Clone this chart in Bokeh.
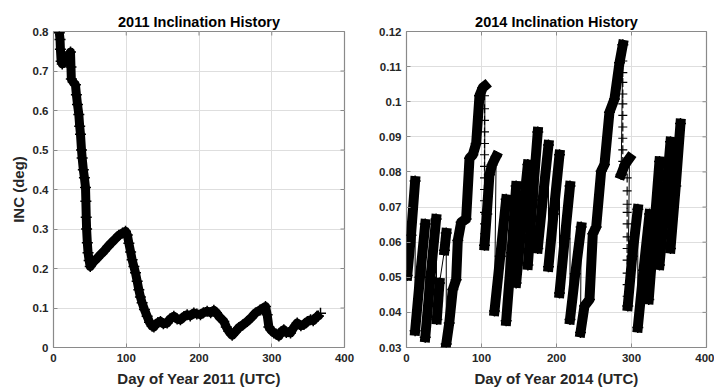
import math
from bokeh.plotting import figure
from bokeh.models import Range1d, FixedTicker
from bokeh.layouts import row
from bokeh.embed import file_html
from bokeh.resources import INLINE

# ---------------- data: 2011 ----------------
days_2011 = [8, 9, 9.5, 10.5, 12, 15, 18, 21, 23.4, 24, 24.5, 27, 30.2, 31.5, 33, 34.8,
             36, 37.1, 38.5, 39.4, 41, 42.5, 44, 44.5, 45, 45.5, 46.5, 47.5, 49, 50.5,
             52, 55.5, 60, 64.6, 70, 75, 80, 85, 89.8, 95, 99, 101.5, 103.6, 106, 108.1,
             110.5, 112.7, 115, 117.3, 119.5, 121.8, 125, 128.7, 132, 135.6, 138, 140.2,
             143.5, 147, 151, 156.2, 160, 165.4, 170, 174.5, 179, 183.7, 188, 192.9, 197,
             202, 206, 211.2, 216, 220.4, 224, 227.2, 231, 234.1, 237.5, 241, 245.6, 250,
             254.7, 260, 266.2, 272, 277.6, 284, 291.4, 293.7, 296, 299, 302.9, 306,
             309.8, 313, 316.6, 320, 325.8, 330, 335, 340, 344.2, 349, 353.4, 357, 360.2,
             364, 367]
inc_2011 = [0.797, 0.78, 0.755, 0.725, 0.718, 0.722, 0.733, 0.74, 0.748, 0.71, 0.68, 0.672,
            0.665, 0.64, 0.615, 0.59, 0.56, 0.54, 0.5, 0.48, 0.45, 0.43, 0.405, 0.37, 0.33,
            0.3, 0.265, 0.24, 0.22, 0.205, 0.21, 0.218, 0.226, 0.235, 0.245, 0.256, 0.266,
            0.275, 0.284, 0.29, 0.294, 0.285, 0.264, 0.242, 0.222, 0.205, 0.189, 0.168,
            0.146, 0.128, 0.113, 0.096, 0.079, 0.064, 0.054, 0.052, 0.058, 0.063, 0.066,
            0.06, 0.062, 0.072, 0.079, 0.072, 0.07, 0.078, 0.083, 0.08, 0.0875, 0.085,
            0.083, 0.088, 0.092, 0.088, 0.094, 0.088, 0.079, 0.072, 0.066, 0.052, 0.041,
            0.031, 0.04, 0.05, 0.057, 0.066, 0.076, 0.0875, 0.095, 0.104, 0.083, 0.052,
            0.044, 0.037, 0.034, 0.029, 0.04, 0.045, 0.038, 0.037, 0.05, 0.062, 0.055,
            0.058, 0.066, 0.07, 0.068, 0.075, 0.08, 0.087]

# ---------------- data: 2014 (steep ramps, segment id per point) ----------------
days_2014 = [1, 6, 11.5,
             11.5, 18, 25,
             25, 32, 39.5,
             40.4, 44,
             50.6, 53,
             53, 57, 61.7, 66.2, 68.4, 72.9, 79.5, 84, 88.4, 92.9, 97.3, 101.7, 104.5,
             104, 107, 110.6, 114, 119.5,
             117.3, 125, 132.9,
             132.9, 140, 146.2,
             146.2, 154, 161.8,
             161.8, 168, 175,
             175, 182, 189.3,
             189.3, 196, 204,
             204, 211, 218,
             218, 225, 232.9,
             232, 237.3, 244, 248.4, 252.9, 259.5, 264, 270.6, 277.3, 284, 288.4,
             286.2, 291, 297.3,
             295, 301, 308.4,
             308.4, 316, 324,
             323, 330, 337.3,
             337.3, 345, 352,
             352, 359, 365.3]
inc_2014 = [0.0505, 0.062, 0.0774,
            0.0348, 0.050, 0.0652,
            0.0329, 0.050, 0.0666,
            0.038, 0.0484,
            0.0577, 0.0626,
            0.031, 0.037, 0.0465, 0.0493, 0.0605, 0.0657, 0.0666, 0.0839, 0.0849, 0.0881,
            0.1017, 0.104, 0.1045,
            0.0591, 0.068, 0.0792, 0.082, 0.0844,
            0.0404, 0.056, 0.0722,
            0.0376, 0.057, 0.076,
            0.0484, 0.066, 0.0821,
            0.0535, 0.072, 0.0914,
            0.0582, 0.073, 0.0877,
            0.053, 0.068, 0.0849,
            0.0455, 0.061, 0.076,
            0.038, 0.051, 0.0643,
            0.0343, 0.0418, 0.0437, 0.0624, 0.0643, 0.0802, 0.0821, 0.097, 0.1008, 0.1111,
            0.1162,
            0.0793, 0.082, 0.0839,
            0.0418, 0.056, 0.0694,
            0.0357, 0.052, 0.068,
            0.0437, 0.063, 0.083,
            0.0535, 0.071, 0.0886,
            0.0582, 0.076, 0.0938]
seg_2014 = [1, 1, 1,
            2, 2, 2,
            3, 3, 3,
            4, 4,
            5, 5,
            6, 6, 6, 6, 6, 6, 6, 6, 6, 6, 6, 6, 6,
            7, 7, 7, 7, 7,
            8, 8, 8,
            9, 9, 9,
            10, 10, 10,
            11, 11, 11,
            12, 12, 12,
            13, 13, 13,
            14, 14, 14,
            15, 15, 15,
            16, 16, 16, 16, 16, 16, 16, 16, 16, 16, 16,
            17, 17, 17,
            18, 18, 18,
            19, 19, 19,
            20, 20, 20,
            21, 21, 21,
            22, 22, 22]
# sparse '+' samples read along the fast drops
drop_days_2014 = [104, 104, 104, 104, 104, 104, 104, 104, 104, 104, 104, 104, 104,
                  288.4, 288.4, 288.4, 288.4, 288.4, 288.4, 288.4, 288.4, 288.4, 288.4,
                  294.2, 294.2, 294.2, 294.2, 294.2, 294.2, 294.2, 294.2, 294.2, 294.2, 294.2]
drop_inc_2014 = [0.1017, 0.098, 0.0947, 0.0914, 0.0881, 0.0849, 0.0816, 0.0783, 0.075,
                 0.0718, 0.0685, 0.0652, 0.0624,
                 0.1116, 0.1083, 0.1055, 0.1022, 0.0994, 0.0961, 0.0928, 0.0896, 0.0863,
                 0.083,
                 0.0783, 0.0746, 0.0708, 0.0685, 0.0652, 0.0615, 0.0582, 0.0549, 0.0512,
                 0.0479, 0.0446]

# ---------------- ticks / labels ----------------
x_ticks = [0, 100, 200, 300, 400]
x_tick_labels = ["0", "100", "200", "300", "400"]
y_ticks_2011 = [0, 0.1, 0.2, 0.3, 0.4, 0.5, 0.6, 0.7, 0.8]
y_tick_labels_2011 = ["0", "0.1", "0.2", "0.3", "0.4", "0.5", "0.6", "0.7", "0.8"]
y_ticks_2014 = [0.03, 0.04, 0.05, 0.06, 0.07, 0.08, 0.09, 0.10, 0.11, 0.12]
y_tick_labels_2014 = ["0.03", "0.04", "0.05", "0.06", "0.07", "0.08", "0.09", "0.1",
                      "0.11", "0.12"]

FONT = "Liberation Sans"
FRAME = "#8a8a8a"
TXT = "#262626"
GRID = "#dedede"


def make_fig(width, height, bl, br, bt, bb, xr, yr, title, xlabel, ylabel,
             yt, ytl):
    p = figure(width=width, height=height, output_backend="svg",
               toolbar_location=None, x_range=Range1d(*xr), y_range=Range1d(*yr),
               min_border_left=bl, min_border_right=br, min_border_top=bt,
               min_border_bottom=bb)
    p.background_fill_color = "white"
    p.border_fill_color = "white"
    p.outline_line_color = FRAME
    p.outline_line_width = 1.2
    p.title.text = title
    p.title.align = "center"
    p.title.text_font = FONT
    p.title.text_font_style = "bold"
    p.title.text_font_size = "14.5px"
    p.title.text_color = "black"
    p.title.standoff = 3

    p.xaxis.ticker = FixedTicker(ticks=x_ticks)
    p.yaxis.ticker = FixedTicker(ticks=yt)
    p.xaxis.major_label_overrides = {v: s for v, s in zip(x_ticks, x_tick_labels)}
    p.yaxis.major_label_overrides = {v: s for v, s in zip(yt, ytl)}
    for ax in (p.xaxis[0], p.yaxis[0]):
        ax.axis_line_color = None
        ax.major_tick_in = 4
        ax.major_tick_out = 0
        ax.major_tick_line_color = FRAME
        ax.minor_tick_line_color = None
        ax.major_label_text_font = FONT
        ax.major_label_text_font_style = "bold"
        ax.major_label_text_font_size = "11.5px"
        ax.major_label_text_color = TXT
        ax.major_label_text_line_height = 1.0
        ax.axis_label_text_font = FONT
        ax.axis_label_text_font_style = "bold"
        ax.axis_label_text_font_size = "15px"
        ax.axis_label_text_color = TXT
        ax.axis_label_text_line_height = 1.0
    p.xaxis.major_label_standoff = 6
    p.xaxis.axis_label_standoff = 5
    p.yaxis.major_label_standoff = 5
    p.yaxis.axis_label_standoff = 3
    p.xaxis.axis_label = xlabel
    if ylabel:
        p.yaxis.axis_label = ylabel

    # inward ticks on the top and right edges (boxed axes)
    p.ray(x=x_ticks, y=[yr[1]] * len(x_ticks), length=4, length_units="screen",
          angle=-math.pi / 2, line_color=FRAME, line_width=1)
    p.ray(x=[xr[1]] * len(yt), y=yt, length=4, length_units="screen",
          angle=math.pi, line_color=FRAME, line_width=1)

    p.xgrid.ticker = FixedTicker(ticks=x_ticks)
    p.ygrid.ticker = FixedTicker(ticks=yt)
    p.grid.grid_line_color = GRID
    p.grid.grid_line_width = 1
    return p


p1 = make_fig(372, 389, 53, 28, 31, 41, (0, 400), (0, 0.8),
              "2011 Inclination History", "Day of Year 2011 (UTC)", "INC (deg)",
              y_ticks_2011, y_tick_labels_2011)
p1.line(days_2011, inc_2011, line_color="black", line_width=9, line_join="round")
p1.scatter(days_2011, inc_2011, marker="cross", size=11, line_color="black",
           line_width=1.5)

p2 = make_fig(342, 389, 34, 8, 31, 38, (0, 400), (0.03, 0.12),
              "2014 Inclination History", "Day of Year 2014 (UTC)", None,
              y_ticks_2014, y_tick_labels_2014)
# thin connecting line through all points in time order
p2.line(days_2014, inc_2014, line_color="black", line_width=1)
segs = sorted(set(seg_2014))
xs = [[d for d, s in zip(days_2014, seg_2014) if s == k] for k in segs]
ys = [[v for v, s in zip(inc_2014, seg_2014) if s == k] for k in segs]
p2.multi_line(xs, ys, line_color="black", line_width=10, line_cap="square",
              line_join="round")
p2.scatter(days_2014, inc_2014, marker="cross", size=11, line_color="black",
           line_width=1.5)
p2.scatter(drop_days_2014, drop_inc_2014, marker="cross", size=9, line_color="black",
           line_width=1.2)

layout = row(p1, p2)
open("out.html", "w").write(file_html(layout, INLINE))
